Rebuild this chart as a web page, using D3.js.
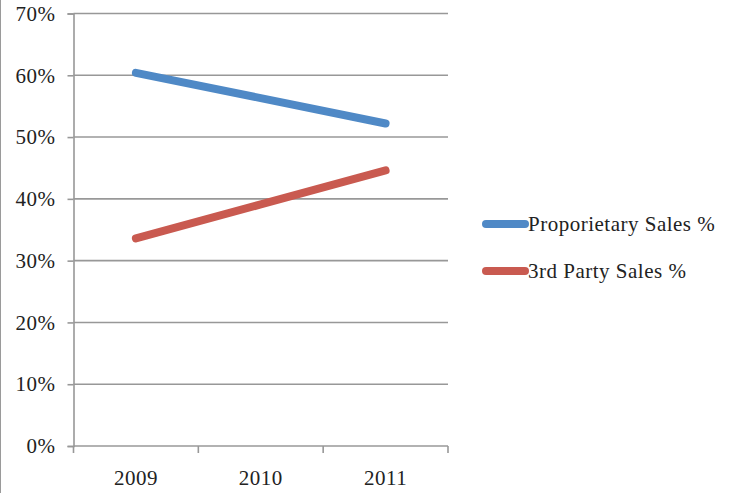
<!DOCTYPE html>
<html>
<head>
<meta charset="utf-8">
<script src="https://cdn.jsdelivr.net/npm/d3@7/dist/d3.min.js"></script>
<style>
  html, body { margin: 0; padding: 0; background: #fff; }
  svg { display: block; }
  text { font-family: "Liberation Serif", "Times New Roman", serif; fill: #222; letter-spacing: 0.5px; }
</style>
</head>
<body>
<script>
// Sales share by year
const years = ["2009", "2010", "2011"];
const seriesNames = ["Proporietary Sales %", "3rd Party Sales %"];
const proprietary = [60.4, 56.3, 52.2];
const thirdParty = [33.6, 39.1, 44.6];
const yTicks = [0, 10, 20, 30, 40, 50, 60, 70];
const colors = ["#4F89C6", "#C95A50"];

const W = 732, H = 493;
const plot = { left: 73.5, right: 448, top: 13.5, bottom: 446 };
const fontSize = "21px";

const svg = d3.select("body").append("svg").attr("width", W).attr("height", H);

// frame line along the left edge
svg.append("line").attr("x1", 0.5).attr("x2", 0.5).attr("y1", 0).attr("y2", H)
  .attr("stroke", "#9a9a9a").attr("stroke-width", 1);

const x = d3.scaleBand().domain(years).range([plot.left, plot.right]);
const y = d3.scaleLinear().domain([0, 70]).range([plot.bottom, plot.top]);

// horizontal gridlines
svg.append("g").selectAll("line").data(yTicks.filter(d => d > 0)).join("line")
  .attr("x1", plot.left).attr("x2", plot.right)
  .attr("y1", d => y(d)).attr("y2", d => y(d))
  .attr("stroke", "#989898").attr("stroke-width", 1.6);

// y axis
const yAxis = svg.append("g").attr("transform", `translate(${plot.left},0)`)
  .call(d3.axisLeft(y).tickValues(yTicks).tickFormat(d => d + "%").tickSize(6).tickPadding(12));
yAxis.select(".domain").attr("stroke", "#989898").attr("stroke-width", 1.6);
yAxis.selectAll(".tick line").attr("stroke", "#989898").attr("stroke-width", 1.6);
yAxis.selectAll("text").style("font-size", fontSize).attr("fill", "#222")
  .style("font-family", "'Liberation Serif', serif");

// x axis with ticks at category boundaries
const xAxisG = svg.append("g").attr("transform", `translate(0,${plot.bottom})`);
xAxisG.append("line").attr("x1", plot.left).attr("x2", plot.right)
  .attr("stroke", "#989898").attr("stroke-width", 1.6);
const bounds = years.map(d => x(d)).concat([plot.right]);
xAxisG.selectAll("line.tick").data(bounds).join("line").attr("class", "tick")
  .attr("x1", d => d).attr("x2", d => d).attr("y1", 0).attr("y2", 7)
  .attr("stroke", "#989898").attr("stroke-width", 1.6);
xAxisG.selectAll("text").data(years).join("text")
  .attr("x", d => x(d) + x.bandwidth() / 2).attr("y", 39)
  .attr("text-anchor", "middle").style("font-size", fontSize).text(d => d);

// series lines
const line = d3.line().x((d, i) => x(years[i]) + x.bandwidth() / 2).y(d => y(d));
[proprietary, thirdParty].forEach((vals, i) => {
  svg.append("path").datum(vals).attr("d", line)
    .attr("fill", "none").attr("stroke", colors[i]).attr("stroke-width", 8)
    .attr("stroke-linecap", "round");
});

// legend
const legend = svg.append("g");
seriesNames.forEach((name, i) => {
  const ly = 224 + i * 47;
  legend.append("line").attr("x1", 486).attr("x2", 525).attr("y1", ly).attr("y2", ly)
    .attr("stroke", colors[i]).attr("stroke-width", 8).attr("stroke-linecap", "round");
  legend.append("text").attr("x", 528).attr("y", ly + 7).style("font-size", fontSize).text(name);
});
</script>
</body>
</html>
